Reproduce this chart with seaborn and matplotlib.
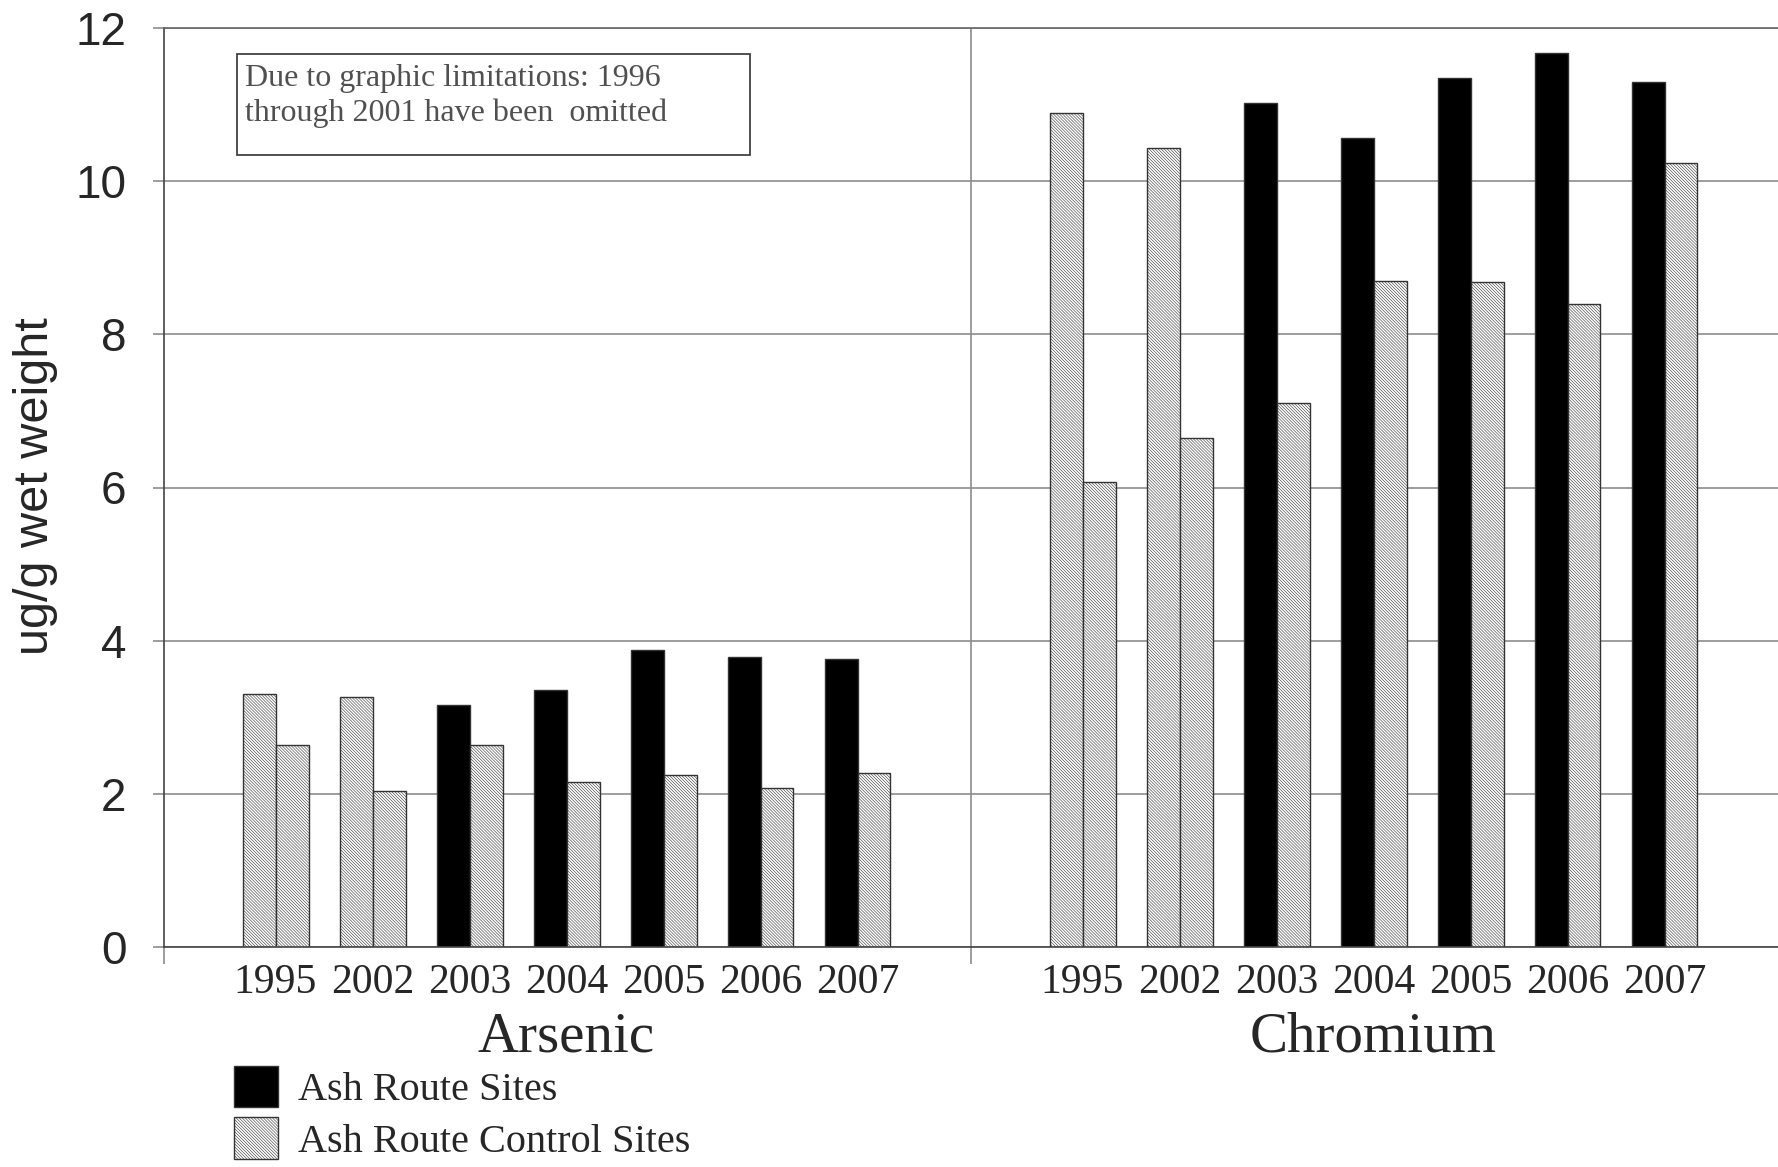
import matplotlib.pyplot as plt
import numpy as np
import seaborn as sns
from matplotlib.patches import Patch, Rectangle

years = ["1995", "2002", "2003", "2004", "2005", "2006", "2007"]
elements = ["Arsenic", "Chromium"]
ash_arsenic = [3.30, 3.26, 3.16, 3.35, 3.88, 3.79, 3.76]
control_arsenic = [2.64, 2.04, 2.64, 2.15, 2.25, 2.07, 2.27]
ash_chromium = [10.89, 10.43, 11.02, 10.56, 11.35, 11.67, 11.30]
control_chromium = [6.07, 6.64, 7.10, 8.70, 8.68, 8.39, 10.24]
hatched_ash_years = ["1995", "2002"]
y_ticks = [0, 2, 4, 6, 8, 10, 12]
series_names = ["Ash Route Sites", "Ash Route Control Sites"]
note = "Due to graphic limitations: 1996\nthrough 2001 have been  omitted"

SANS = "Liberation Sans"
SERIF = "Liberation Serif"
HATCH = "\\" * 11
GRID = "#8c8c8c"
EDGE = "#333333"

# layout: each element gets a section of the x axis, years spaced 1 apart
SECTION = 8.32
OFFSET = 1.15
BAR = 0.34

sns.set_theme(style="ticks")
plt.rcParams["font.family"] = [SANS, "DejaVu Sans"]
plt.rcParams["hatch.linewidth"] = 0.4

centers = np.array([s * SECTION + OFFSET + i
                    for s in range(len(elements)) for i in range(len(years))])
ash = ash_arsenic + ash_chromium
control = control_arsenic + control_chromium
labels = years * len(elements)

fig = plt.figure(figsize=(17.78, 11.67), dpi=100)
ax = fig.add_axes([164 / 1778, 1 - 947 / 1167, 1614 / 1778, 919 / 1167])

sns.barplot(x=centers - BAR / 2, y=ash, native_scale=True, width=BAR,
            color="black", saturation=1, edgecolor=EDGE, linewidth=1,
            errorbar=None, ax=ax)
sns.barplot(x=centers + BAR / 2, y=control, native_scale=True, width=BAR,
            color="white", saturation=1, edgecolor=EDGE, linewidth=1,
            hatch=HATCH, errorbar=None, ax=ax)

# early ash-route years are drawn in the control style in the original
for patch, year in zip(ax.containers[0], labels):
    if year in hatched_ash_years:
        patch.set_facecolor("white")
        patch.set_hatch(HATCH)

ax.set_xlim(0, SECTION * len(elements))
ax.set_ylim(0, 12)
ax.set_axisbelow(True)
ax.yaxis.grid(True, color=GRID, linewidth=1.2)
ax.axvline(SECTION, color=GRID, linewidth=1.2, zorder=0)

ax.set_yticks(y_ticks)
ax.set_yticklabels([str(t) for t in y_ticks], fontsize=33, family=SANS)
ax.tick_params(axis="y", length=8, width=1.2, color=GRID, pad=19, left=True)

ax.set_xticks([0, SECTION])
ax.set_xticklabels([])
ax.set_xticks(centers, minor=True)
ax.set_xticklabels(labels, minor=True, fontsize=30, family=SERIF)
ax.tick_params(axis="x", which="major", length=12, width=1.2, color=GRID, bottom=True)
ax.tick_params(axis="x", which="minor", length=0, pad=12, bottom=True)
ax.set_xlabel("")
ax.set_ylabel("")

for spine in ["top", "left", "bottom"]:
    ax.spines[spine].set_color("#444444")
    ax.spines[spine].set_linewidth(1.2)
ax.spines["right"].set_visible(False)
ax.spines["top"].set_visible(True)
ax.spines["top"].set_color("#666666")

for s, name in enumerate(elements):
    ax.text(s * SECTION + OFFSET + (len(years) - 1) / 2, -0.114, name,
            transform=ax.get_xaxis_transform(), ha="center", va="baseline",
            fontsize=41, family=SERIF)

fig.text(36 / 1778, 1 - 486 / 1167, "ug/g wet weight", rotation=90,
         ha="center", va="center", fontsize=35, family=SANS)

fig.patches.append(Rectangle((237 / 1778, 1 - 155 / 1167), 513 / 1778, 101 / 1167,
                             transform=fig.transFigure, facecolor="white",
                             edgecolor=EDGE, linewidth=1.2))
fig.text(245 / 1778, 1 - 64 / 1167, note, ha="left", va="top", fontsize=23,
         family=SERIF, color="#505050", linespacing=1.25)

handles = [Patch(facecolor="black", edgecolor=EDGE, label=series_names[0]),
           Patch(facecolor="white", edgecolor=EDGE, hatch=HATCH, label=series_names[1])]
fig.legend(handles=handles, loc="upper left",
           bbox_to_anchor=(234 / 1778, 1 - 1066 / 1167),
           frameon=False, borderpad=0, borderaxespad=0,
           handlelength=1.1, handleheight=1.2, handletextpad=0.5,
           labelspacing=0.2, prop={"family": SERIF, "size": 29})

fig.savefig("out.png", dpi=100)
